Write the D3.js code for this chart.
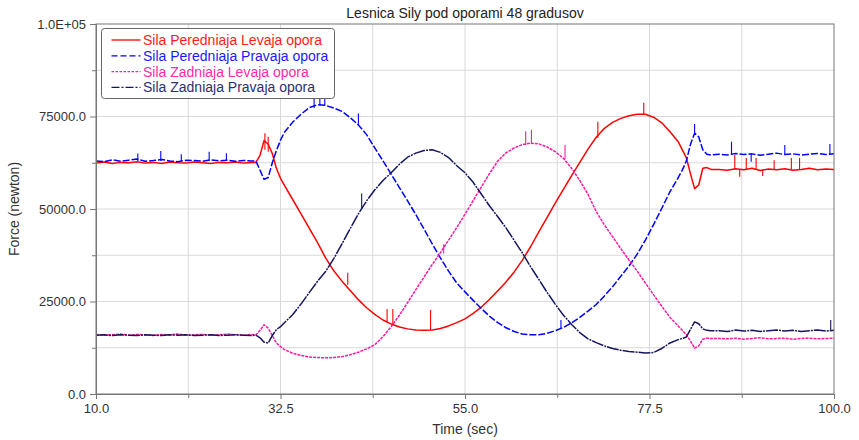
<!DOCTYPE html>
<html>
<head>
<meta charset="utf-8">
<script src="https://cdn.jsdelivr.net/npm/d3@7"></script>
<style>
  body { margin: 0; background: #fff; }
  svg { display: block; font-family: "Liberation Sans", Arial, sans-serif; }
</style>
</head>
<body>
<svg id="chart" width="859" height="440"></svg>
<script>
'use strict';

// time samples (sec), denser around the two load transfers
const time = [10,11,12,13,14,15,16,17,18,19,20,21,22,23,24,25,26,27,28,29,
  29.5,30,30.5,31,31.5,32,32.5,33,
  34,35,36,37,38,39,40,41,42,43,44,45,46,47,48,49,50,51,52,53,54,55,56,57,
  58,59,60,61,62,63,64,65,66,67,68,69,70,71,72,73,74,75,76,77,78,79,80,81,
  81.5,82,82.5,83,83.5,84,84.5,85,
  86,87,88,89,90,91,92,93,94,95,96,97,98,99,100];

const peredLevaja = [62400,62700,62300,62600,62500,62800,62400,62600,62300,62700,62500,62400,62700,62500,62300,62600,62500,62700,62400,62600,
  62600,64500,68500,67500,65000,61000,58300,56300,
  52500,48700,44800,41000,36800,33300,30500,28000,25500,23300,21500,20000,18900,18100,17600,17300,17200,17300,17700,18400,19300,20300,21800,23500,
  25600,27900,30300,33000,36200,39800,43800,47700,51600,55300,59000,62600,66200,69400,71800,73400,74500,75200,75600,75600,74800,73300,70900,68200,
  66000,63800,59500,55500,56500,61000,61200,60700,
  60700,60500,60900,60600,61000,60400,60800,60600,60900,60500,60700,61000,60600,60800,60700];

const peredPravaja = [63000,62800,63300,62900,63200,63500,62900,63100,63400,63000,62800,63200,63100,62900,63300,63000,63200,62900,63100,63000,
  63000,60500,58000,58500,62500,65800,68600,70800,
  73500,75600,77400,78200,78000,77300,76400,74700,72700,70100,66500,63000,59400,55800,52200,48500,44600,40600,36800,33200,30000,27600,25300,23100,
  21000,19300,17900,16900,16200,16000,16000,16400,17100,18000,19200,20700,22400,24200,26500,29000,31800,34600,37800,41600,45800,50200,54700,58500,
  60500,63000,67500,70500,69500,66000,64800,64600,
  64800,64600,65000,64700,64900,64500,64800,65100,64700,64900,64600,64800,65000,64700,64900];

const zadLevaja = [16100,15900,16000,16200,15900,16100,16000,15800,16100,16000,16200,15900,16000,16100,15900,16000,16200,16000,15900,16100,
  16000,17200,18700,17800,15800,13800,12800,12000,
  11000,10400,10000,9850,9800,9850,10100,10600,11300,12200,13300,15500,18200,21300,24700,28200,31600,35000,38200,41600,45000,48600,52300,56000,
  59600,63000,65200,66500,67400,67800,67600,66800,65500,63700,61000,57700,54000,49300,45700,42500,39300,36200,33200,30000,26800,23700,20700,18400,
  17200,16000,14300,12400,13000,14800,15100,15000,
  15000,14900,15100,14800,15000,15200,14900,15000,15100,14800,15000,15100,14900,15000,15100];

const zadPravaja = [15900,16000,15800,16000,15900,15800,16000,15900,15800,16000,15900,16000,15800,15900,16000,15800,15900,16000,15900,15800,
  15900,15200,14000,13800,15800,17400,18200,19300,
  21500,24300,27400,30400,33100,36600,40600,44700,48700,52200,55200,57700,59800,62100,64000,65100,65800,66000,65300,63900,61700,59800,57200,54000,
  50800,47900,44900,41500,38100,34400,31000,27500,24300,21300,18800,16600,14900,13900,13000,12300,11800,11500,11300,11100,11200,12300,13800,14700,
  15000,15400,17500,19500,19000,17600,17200,17100,
  17100,16900,17300,17000,17200,16900,17100,17300,17000,17200,16900,17100,17300,17000,17200];

// single-sample spikes: [time, low, high]
const peredLevajaSpikes = [[30.6,66000,70500],[31.0,65500,69500],[40.7,29500,32800],[45.5,19500,23000],[46.2,18600,23000],
  [50.8,17300,22700],[71.2,69200,73600],[76.8,75600,78700],[87.9,60600,64600],[88.5,58700,60600],[89.3,60600,63800],
  [90.5,60600,63800],[91.3,58900,60700],[92.7,60600,63200],[94.8,60600,63800],[95.8,60600,63800]];
const peredPravajaSpikes = [[15.1,63000,65000],[17.9,63000,65700],[20.4,63000,64800],[23.8,63000,65500],[25.9,63000,65100],
  [36.6,77300,80000],[37.3,78000,80200],[37.9,78000,79700],[42.0,72700,75800],[66.7,17600,20000],[83.0,70000,73000],
  [87.5,64700,68200],[89.9,62800,64800],[94.0,64800,67300],[99.5,64800,67600]];
const zadLevajaSpikes = [[52.4,38000,40500],[62.4,67300,71000],[63.1,67800,71400],[67.2,63500,67300]];
const zadPravajaSpikes = [[42.4,50000,54200],[99.6,17100,20000]];

const seriesNames = ['Sila Peredniaja Levaja opora', 'Sila Peredniaja Pravaja opora',
  'Sila Zadniaja Levaja opora', 'Sila Zadniaja Pravaja opora'];

const xTicks = [10, 32.5, 55, 77.5, 100];
const xTickLabels = ['10.0', '32.5', '55.0', '77.5', '100.0'];
const yTicks = [0, 25000, 50000, 75000, 100000];
const yTickLabels = ['0.0', '25000.0', '50000.0', '75000.0', '1.0E+05'];

const series = [
  { name: seriesNames[0], values: peredLevaja, spikes: peredLevajaSpikes, color: '#ff0000', text: '#ff1a1a', dash: null, legendDash: null },
  { name: seriesNames[1], values: peredPravaja, spikes: peredPravajaSpikes, color: '#0000ff', text: '#1a1aff', dash: '7,2', legendDash: '6,3' },
  { name: seriesNames[2], values: zadLevaja, spikes: zadLevajaSpikes, color: '#ff1aa0', text: '#ff2aa5', dash: '3,1', legendDash: '2.5,1.5' },
  { name: seriesNames[3], values: zadPravaja, spikes: zadPravajaSpikes, color: '#16165e', text: '#2e2e70', dash: '12,1,2,1', legendDash: '8,2,2,2' }
];

let svg = d3.select('#chart');
const margin = { top: 24, right: 25, bottom: 46, left: 96 };
const width = +svg.attr('width') - margin.left - margin.right;
const height = +svg.attr('height') - margin.top - margin.bottom;

const x = d3.scaleLinear().domain([10, 100]).range([0, width]);
const y = d3.scaleLinear().domain([0, 100000]).range([height, 0]);

svg.append('rect')
  .attr('width', 859).attr('height', 440).attr('fill', '#fff');

svg.append('text')
  .attr('x', margin.left + width / 2)
  .attr('y', 18)
  .attr('text-anchor', 'middle')
  .style('font-size', '14px')
  .style('fill', '#222')
  .text('Lesnica Sily pod oporami 48 gradusov');

let g = svg.append('g')
  .attr('transform', `translate(${margin.left},${margin.top})`);

/**
 * grid: every major and minor tick
 */
const xMinor = d3.range(0, 9).map(i => 10 + i * 11.25);
const yMinor = d3.range(0, 9).map(i => i * 12500);

g.append('g')
  .attr('class', 'grid')
  .selectAll('line.gx')
  .data(xMinor.slice(1, -1))
  .join('line')
  .attr('x1', d => x(d)).attr('x2', d => x(d))
  .attr('y1', 0).attr('y2', height)
  .style('stroke', '#d9d9d9')
  .style('stroke-width', 1);

g.append('g')
  .attr('class', 'grid')
  .selectAll('line.gy')
  .data(yMinor.slice(1, -1))
  .join('line')
  .attr('x1', 0).attr('x2', width)
  .attr('y1', d => y(d)).attr('y2', d => y(d))
  .style('stroke', '#d9d9d9')
  .style('stroke-width', 1);

/**
 * series lines
 */
const line = d3.line()
  .x((d, i) => x(time[i]))
  .y(d => y(d));

series.forEach(s => {
  g.append('path')
    .datum(s.values)
    .attr('d', line)
    .attr('fill', 'none')
    .attr('stroke', s.color)
    .attr('stroke-width', 1.5)
    .attr('stroke-linejoin', 'round')
    .attr('stroke-dasharray', s.dash);

  g.selectAll(null)
    .data(s.spikes)
    .join('line')
    .attr('x1', d => x(d[0])).attr('x2', d => x(d[0]))
    .attr('y1', d => y(d[1])).attr('y2', d => y(d[2]))
    .attr('stroke', s.color)
    .attr('stroke-width', 1.1);
});

/**
 * axes
 */
let xAxis = g.append('g')
  .attr('transform', `translate(0,${height})`)
  .call(d3.axisBottom(x)
    .tickValues(xTicks)
    .tickSize(5)
    .tickPadding(5)
    .tickFormat((d, i) => xTickLabels[i]));
g.append('g')
  .attr('transform', `translate(0,${height})`)
  .call(d3.axisBottom(x).tickValues(xMinor.filter((d, i) => i % 2 == 1)).tickSize(4).tickFormat(''))
  .call(a => a.select('.domain').remove());

let yAxis = g.append('g')
  .call(d3.axisLeft(y)
    .tickValues(yTicks)
    .tickSize(6)
    .tickPadding(4)
    .tickFormat((d, i) => yTickLabels[i]));
g.append('g')
  .call(d3.axisLeft(y).tickValues(yMinor.filter((d, i) => i % 2 == 1)).tickSize(4).tickFormat(''))
  .call(a => a.select('.domain').remove());

g.selectAll('.tick line').attr('stroke', '#777');
g.selectAll('.domain').attr('stroke', '#777');
g.selectAll('.tick text')
  .style('font-size', '13px')
  .style('fill', '#333')
  .style('font-family', '"Liberation Sans", Arial, sans-serif');

// plot frame
g.append('rect')
  .attr('width', width).attr('height', height)
  .attr('fill', 'none')
  .attr('stroke', '#777')
  .attr('stroke-width', 1);

svg.append('text')
  .attr('x', margin.left + width / 2)
  .attr('y', 434)
  .attr('text-anchor', 'middle')
  .style('font-size', '14px')
  .style('fill', '#333')
  .text('Time (sec)');

svg.append('text')
  .attr('transform', `translate(19,${margin.top + height / 2}) rotate(-90)`)
  .attr('text-anchor', 'middle')
  .style('font-size', '14px')
  .style('fill', '#333')
  .text('Force (newton)');

/**
 * legend
 */
let legend = svg.append('g').attr('transform', 'translate(101.5,28.5)');
legend.append('rect')
  .attr('width', 233).attr('height', 70)
  .attr('rx', 3)
  .attr('fill', '#fff')
  .attr('stroke', '#666');

series.forEach((s, i) => {
  const cy = 11.5 + i * 15.8;
  legend.append('line')
    .attr('x1', 10).attr('x2', 39)
    .attr('y1', cy).attr('y2', cy)
    .attr('stroke', s.color)
    .attr('stroke-width', 1.3)
    .attr('stroke-dasharray', s.legendDash);
  legend.append('text')
    .attr('x', 41.5).attr('y', cy + 5)
    .style('font-size', '14px')
    .style('fill', s.text)
    .text(s.name);
});
</script>
</body>
</html>
